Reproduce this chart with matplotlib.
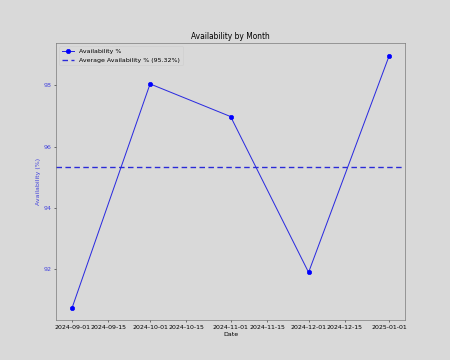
import matplotlib
matplotlib.use('Agg')
import matplotlib.pyplot as plt
import pandas as pd

months = ['2024-09-01', '2024-10-01', '2024-11-01', '2024-12-01', '2025-01-01']
availability = [90.72, 98.05, 96.98, 91.88, 98.97]

datas = pd.to_datetime(months)
media = sum(availability) / len(availability)

fig, ax = plt.subplots(figsize=(10, 8), dpi=45)
fig.patch.set_facecolor('#d9d9d9')
ax.set_facecolor('#d9d9d9')

ax.plot(datas, availability, marker='o', markersize=7, linewidth=1.6,
        color='#2a2ae0', markerfacecolor='blue', markeredgecolor='blue',
        label='Availability %')
ax.axhline(media, color='#2a2ad8', linestyle='--', linewidth=2.2,
           dashes=(4, 2.5), label=f'Average Availability % ({media:.2f}%)')

ax.set_xlabel('Date')
ax.set_ylabel('Availability (%)', color='#4444dd')
ax.tick_params(axis='y', labelcolor='#4444dd')
ax.set_title('Availability by Month')
ax.legend(loc='upper left', facecolor='#d9d9d9')

for s in ax.spines.values():
    s.set_color('#555555')

fig.savefig('out.png', facecolor=fig.get_facecolor())
